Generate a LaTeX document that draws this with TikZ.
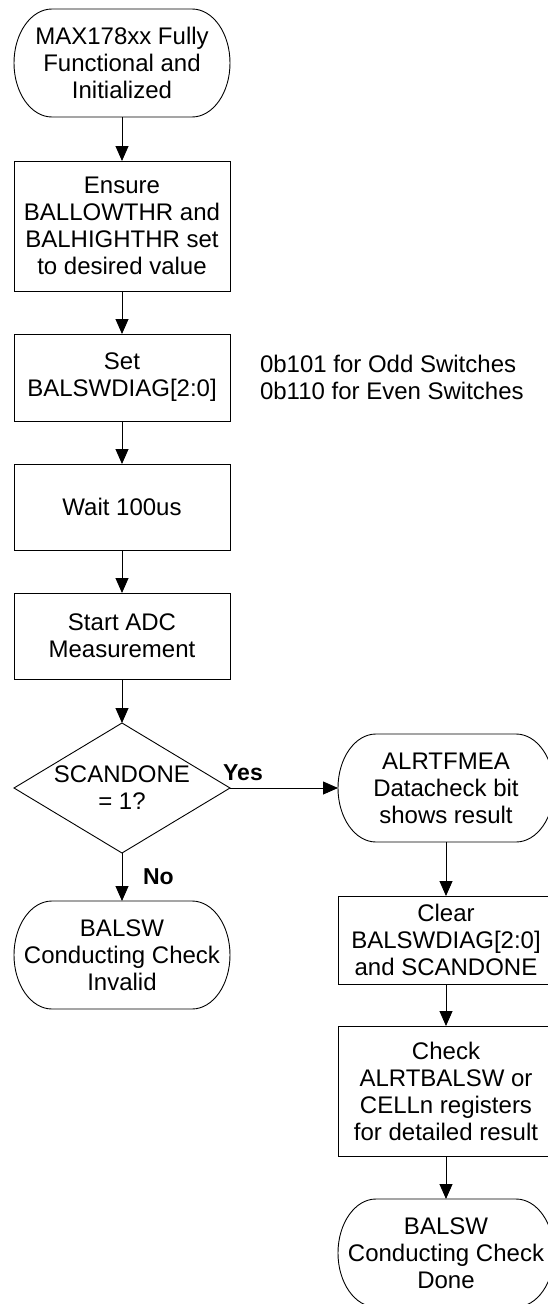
\documentclass[tikz,border=0pt]{standalone}
\usepackage{fontspec}
\setmainfont{Liberation Sans}
\usetikzlibrary{positioning, shapes.geometric, arrows.meta}

\begin{document}
\begin{tikzpicture}[
        x=1pt, y=-1pt,
        >={Triangle[length=15pt, width=13pt]},
        node distance=43pt,
        line width=0.9pt,
        every node/.style={inner sep=0pt, outer sep=0pt, align=center, font=\fontsize{24}{27}\selectfont},
        term/.style={minimum width=216pt, minimum height=108pt},
        proc/.style={draw, rectangle, minimum width=216pt, minimum height=87pt},
        cond/.style={draw, diamond, aspect=1.66, minimum width=216pt, minimum height=130pt},
        note/.style={align=left},
        answer/.style={font=\fontsize{23}{26}\selectfont\bfseries}
    ]
        \useasboundingbox (0,0) rectangle (548,1304);
        \node[term] (start) at (122,63) {MAX178xx Fully\\Functional and\\Initialized};
        \node[proc, minimum height=130pt, below=44pt of start] (ensure) {Ensure\\BALLOWTHR and\\BALHIGHTHR set\\to desired value};
        \node[proc, below=of ensure] (setdiag) {Set\\BALSWDIAG[2:0]};
        \node[note, right=30pt of setdiag] (mode) {0b101 for Odd Switches\\0b110 for Even Switches};
        \node[proc, minimum height=86pt, below=of setdiag] (wait) {Wait 100us};
        \node[proc, minimum height=86pt, below=of wait] (adc) {Start ADC\\Measurement};
        \node[cond, below=44pt of adc] (scan) {SCANDONE\\= 1?};
        \node[term, below=48pt of scan] (invalid) {BALSW\\Conducting Check\\Invalid};
        \node[term, right=108pt of scan] (alrt) {ALRTFMEA\\Datacheck bit\\shows result};
        \node[proc, minimum height=88pt, below=54pt of alrt] (clear) {Clear\\BALSWDIAG[2:0]\\and SCANDONE};
        \node[proc, minimum height=130pt, below=42pt of clear] (check) {Check\\ALRTBALSW or\\CELLn registers\\for detailed result};
        \node[term, below=of check] (done) {BALSW\\Conducting Check\\Done};

        % terminator outlines with flat elliptic ends
        \foreach \t in {start, alrt, invalid, done}
            \draw ([xshift=38pt]\t.north west) -- ([xshift=-38pt]\t.north east)
                arc[start angle=90, end angle=-90, x radius=38pt, y radius=54pt]
                -- ([xshift=38pt]\t.south west)
                arc[start angle=270, end angle=90, x radius=38pt, y radius=54pt] -- cycle;

        \path[->]
        (start) edge (ensure)
        (ensure) edge (setdiag)
        (setdiag) edge (wait)
        (wait) edge (adc)
        (adc) edge (scan)
        (scan) edge node[answer, above=7pt, pos=0.12] {Yes} (alrt)
        (scan) edge node[answer, right=21pt] {No} (invalid)
        (alrt) edge (clear)
        (clear) edge (check)
        (check) edge (done);
\end{tikzpicture}
\end{document}
